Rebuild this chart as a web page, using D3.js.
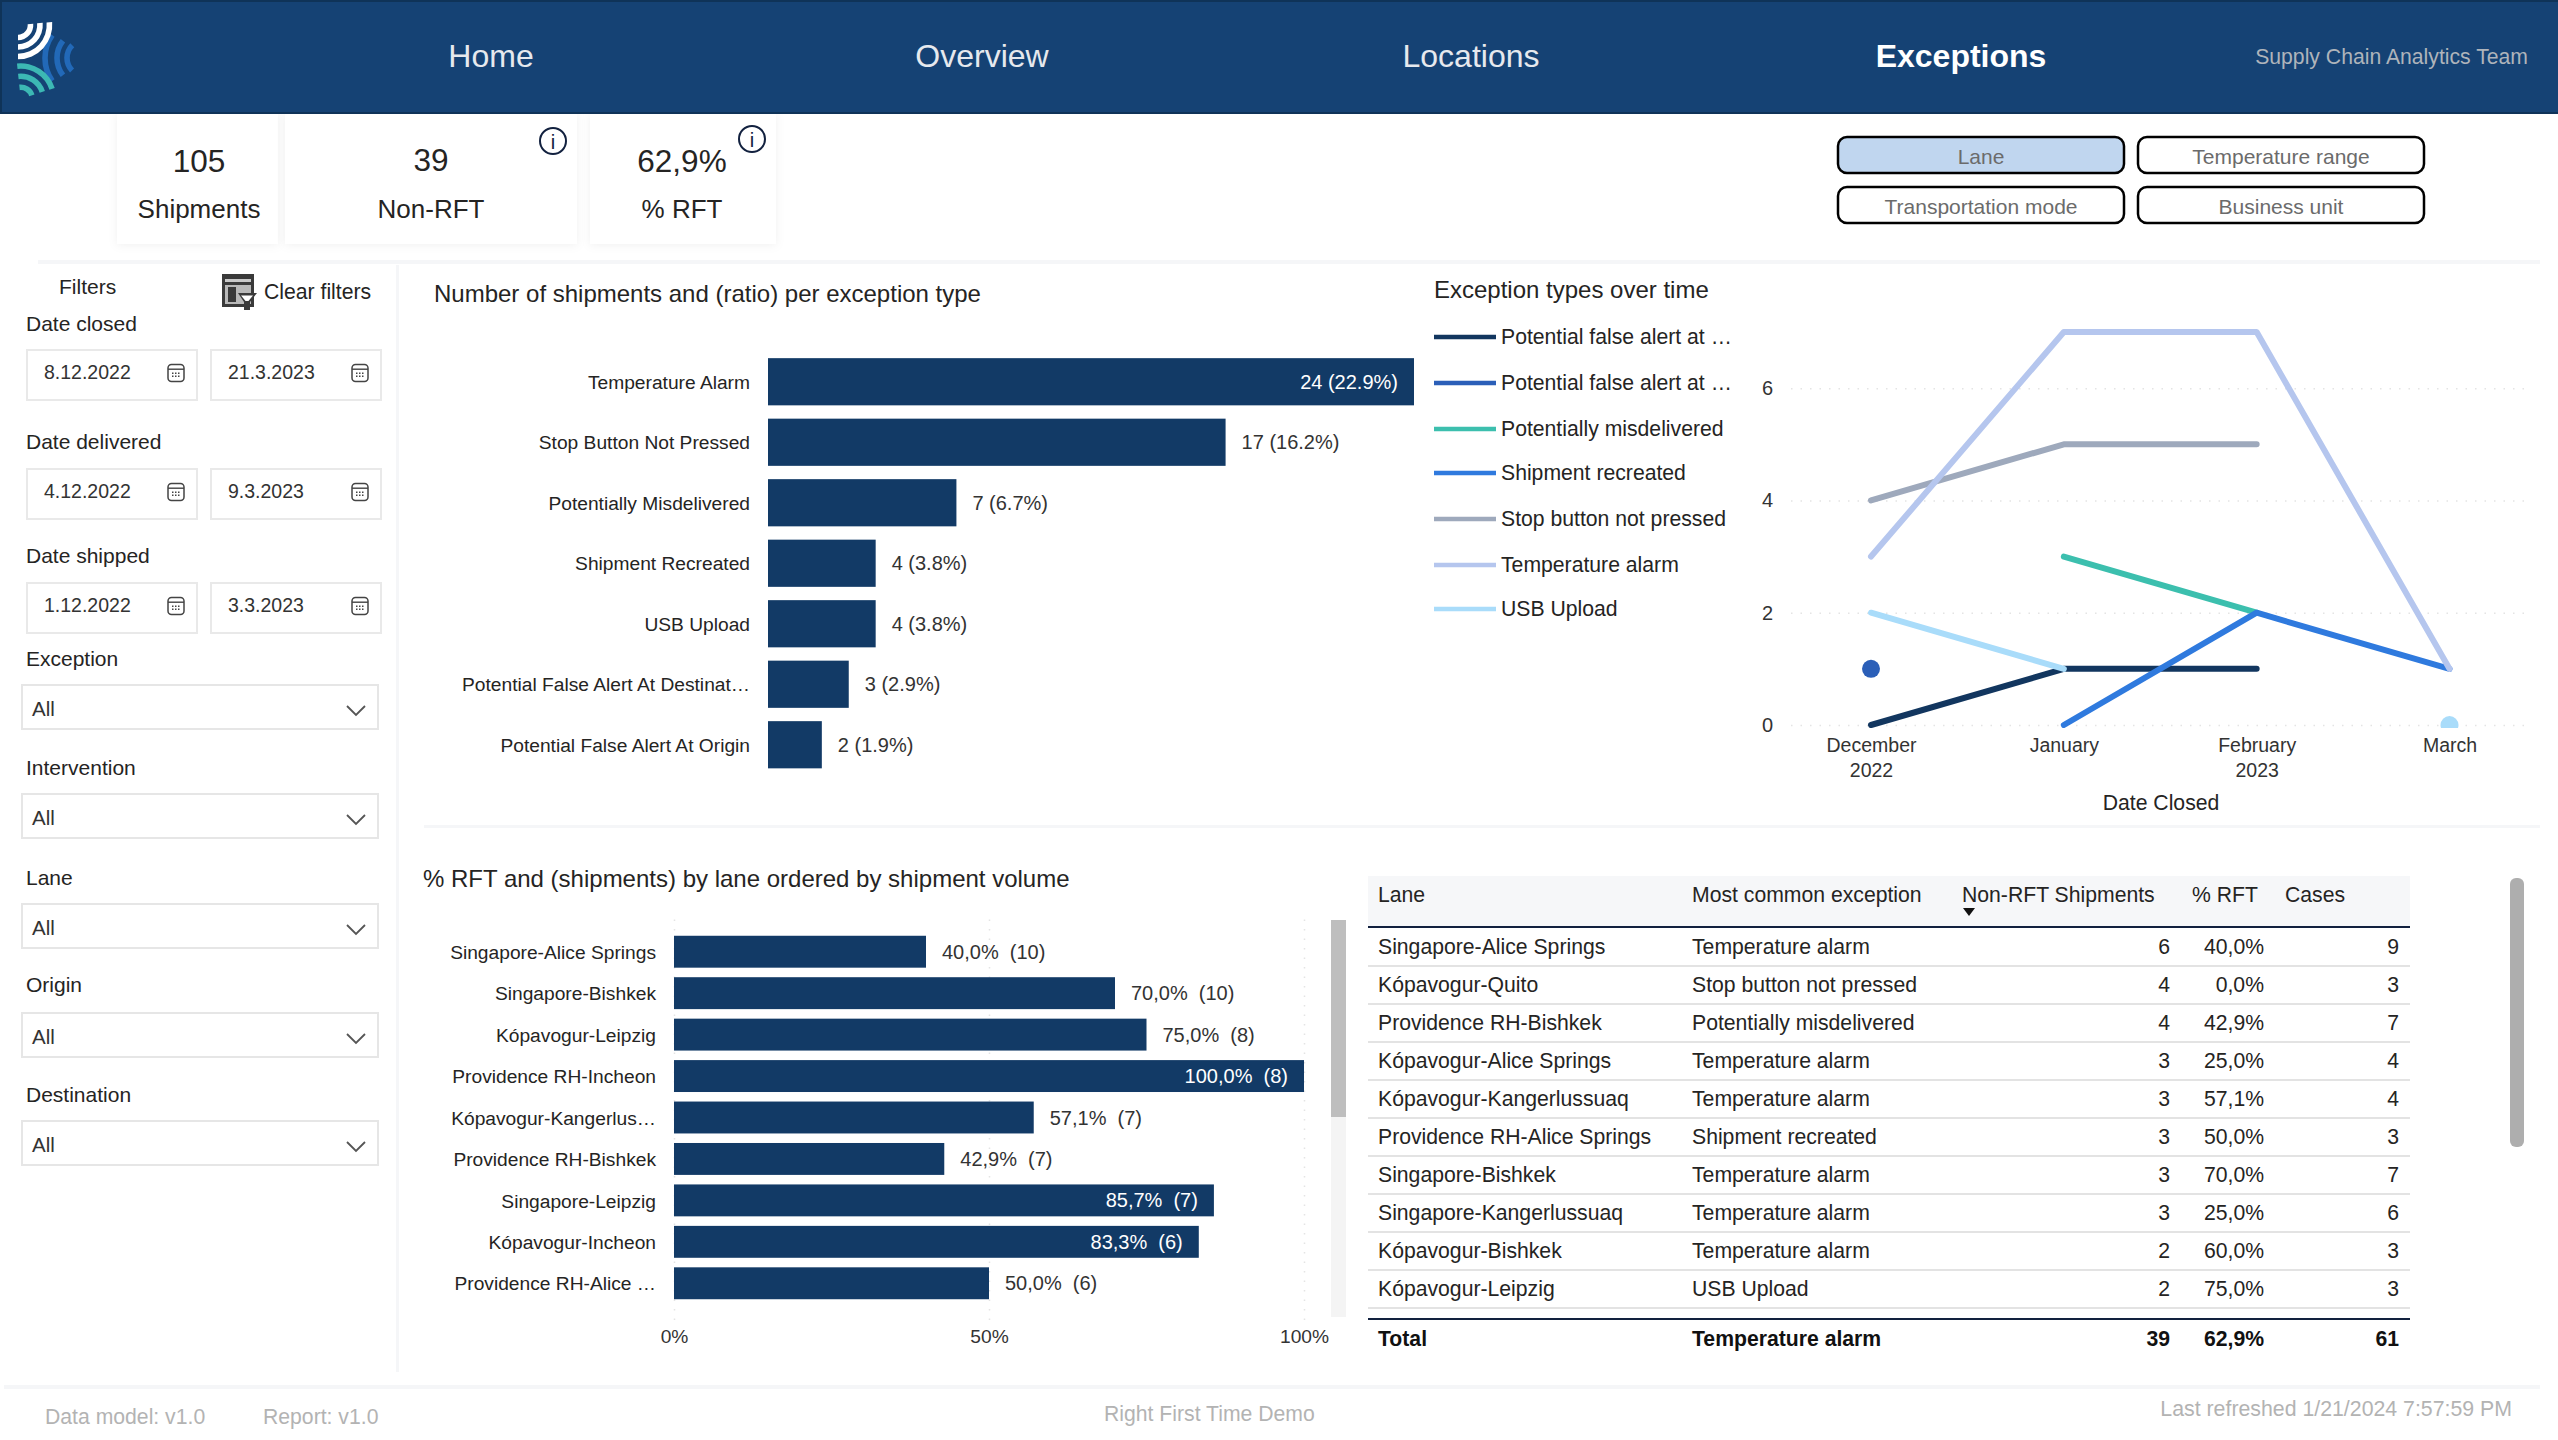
<!DOCTYPE html>
<html>
<head>
<meta charset="utf-8">
<script src="https://d3js.org/d3.v7.min.js"></script>
<style>
  html, body { margin: 0; padding: 0; background: #fff; }
  svg { display: block; }
  text { font-family: "Liberation Sans", Arial, sans-serif; }
  .domain { display: none; }
</style>
</head>
<body>
<svg id="my_dataviz" width="2558" height="1440"></svg>

<script>

// ---- data ----
const exceptionTypes = ["Temperature Alarm", "Stop Button Not Pressed", "Potentially Misdelivered", "Shipment Recreated", "USB Upload", "Potential False Alert At Destinat…", "Potential False Alert At Origin"];
const exceptionCounts = [24, 17, 7, 4, 4, 3, 2];
const exceptionRatios = ["22.9%", "16.2%", "6.7%", "3.8%", "3.8%", "2.9%", "1.9%"];

const months = ["December", "January", "February", "March"];
const years = ["2022", "", "2023", ""];
const legendNames = ["Potential false alert at …", "Potential false alert at …", "Potentially misdelivered", "Shipment recreated", "Stop button not pressed", "Temperature alarm", "USB Upload"];
const lineColors = ["#12365f", "#2b5fb8", "#3cbfae", "#2f7ade", "#9ea9bc", "#b5c6ee", "#a9dcfa"];
const falseAlertDestination = [0, 1, 1, null];
const falseAlertOrigin = [1, null, null, null];
const misdelivered = [null, 3, 2, null];
const recreated = [null, 0, 2, 1];
const stopButton = [4, 5, 5, null];
const temperatureAlarm = [3, 7, 7, 1];
const usbUpload = [2, 1, null, 0];

const barLanes = ["Singapore-Alice Springs", "Singapore-Bishkek", "Kópavogur-Leipzig", "Providence RH-Incheon", "Kópavogur-Kangerlus…", "Providence RH-Bishkek", "Singapore-Leipzig", "Kópavogur-Incheon", "Providence RH-Alice …"];
const barRft = [40.0, 70.0, 75.0, 100.0, 57.1, 42.9, 85.7, 83.3, 50.0];
const barShipments = [10, 10, 8, 8, 7, 7, 7, 6, 6];

const tableHeads = ["Lane", "Most common exception", "Non-RFT Shipments", "% RFT", "Cases"];
const tableLanes = ["Singapore-Alice Springs", "Kópavogur-Quito", "Providence RH-Bishkek", "Kópavogur-Alice Springs", "Kópavogur-Kangerlussuaq", "Providence RH-Alice Springs", "Singapore-Bishkek", "Singapore-Kangerlussuaq", "Kópavogur-Bishkek", "Kópavogur-Leipzig"];
const tableExceptions = ["Temperature alarm", "Stop button not pressed", "Potentially misdelivered", "Temperature alarm", "Temperature alarm", "Shipment recreated", "Temperature alarm", "Temperature alarm", "Temperature alarm", "USB Upload"];
const tableNonRft = [6, 4, 4, 3, 3, 3, 3, 3, 2, 2];
const tableRft = ["40,0%", "0,0%", "42,9%", "25,0%", "57,1%", "50,0%", "70,0%", "25,0%", "60,0%", "75,0%"];
const tableCases = [9, 3, 7, 4, 4, 3, 7, 6, 3, 3];
const tableTotal = ["Total", "Temperature alarm", "39", "62,9%", "61"];

const navItems = ["Home", "Overview", "Locations", "Exceptions"];
const kpiValues = ["105", "39", "62,9%"];
const kpiNames = ["Shipments", "Non-RFT", "% RFT"];
const toggleNames = ["Lane", "Temperature range", "Transportation mode", "Business unit"];
const dateFilters = ["Date closed", "Date delivered", "Date shipped"];
const dateFrom = ["8.12.2022", "4.12.2022", "1.12.2022"];
const dateTo = ["21.3.2023", "9.3.2023", "3.3.2023"];
const dropdownFilters = ["Exception", "Intervention", "Lane", "Origin", "Destination"];

// The svg
const svg = d3.select("svg");
const textCol = "#252423";
const barCol = "#123a66";

function label(parent, x, y, txt, size, col, anchor, weight) {
  return parent.append("text")
    .attr("x", x).attr("y", y - 1)
    .attr("dominant-baseline", "central")
    .attr("text-anchor", anchor || "start")
    .attr("font-size", size)
    .attr("font-weight", weight || "normal")
    .attr("fill", col || textCol)
    .text(txt);
}

// shadow for the kpi cards
svg.append("defs").append("filter").attr("id", "soft")
  .attr("x", "-20%").attr("y", "-20%").attr("width", "140%").attr("height", "140%")
  .append("feDropShadow")
  .attr("dx", 0).attr("dy", 1).attr("stdDeviation", 5)
  .attr("flood-color", "#000").attr("flood-opacity", 0.06);

svg.select("defs").append("clipPath").attr("id", "plotClip")
  .append("rect").attr("x", 1780).attr("y", 300).attr("width", 760).attr("height", 428);

// ---- kpi cards (under the header so the shadow does not fall on it) ----
const cardX = [117, 285, 590];
const cardW = [161, 292, 186];
const cardMid = [199, 431, 682];
kpiValues.forEach(function (d, i) {
  svg.append("rect").attr("x", cardX[i]).attr("y", 113).attr("width", cardW[i]).attr("height", 131)
    .attr("fill", "#fff").attr("filter", "url(#soft)");
  label(svg, cardMid[i], i === 1 ? 161 : 162, d, 31.5, textCol, "middle");
  label(svg, cardMid[i], 210, kpiNames[i], 26, textCol, "middle");
});

// ---- header ----
svg.append("rect").attr("width", 2558).attr("height", 114).attr("fill", "#0f3358");
svg.append("rect").attr("x", 2).attr("y", 2).attr("width", 2556).attr("height", 110).attr("fill", "#154274");

const navX = [491, 982, 1471, 1961];
navItems.forEach(function (d, i) {
  label(svg, navX[i], 57, d, 32, i === 3 ? "#ffffff" : "#e6e9ee", "middle", i === 3 ? "bold" : "normal");
});
label(svg, 2528, 57, "Supply Chain Analytics Team", 21.2, "#aeb4bb", "end");

// logo, three families of arcs
const logo = svg.append("g");
const arcGen = d3.arc();
const deg = Math.PI / 180;
[[18, 226, 315], [28, 232, 308], [40, 235, 305]].forEach(function (a) {
  logo.append("path").attr("transform", "translate(85,58)")
    .attr("d", arcGen({ innerRadius: a[0] - 2.8, outerRadius: a[0] + 2.8, startAngle: a[1] * deg, endAngle: a[2] * deg }))
    .attr("fill", "#2269b8");
});
[12.5, 22, 31.5].forEach(function (r) {
  logo.append("path").attr("transform", "translate(18,25)")
    .attr("d", arcGen({ innerRadius: r - 2.8, outerRadius: r + 2.8, startAngle: 85 * deg, endAngle: 180 * deg }))
    .attr("fill", "#ffffff");
});
[11.7, 22.7, 33].forEach(function (r) {
  logo.append("path").attr("transform", "translate(20.7,99)")
    .attr("d", arcGen({ innerRadius: r - 2.8, outerRadius: r + 2.8, startAngle: -6 * deg, endAngle: 72 * deg }))
    .attr("fill", "#3cb8b4");
});

function infoIcon(cx, cy) {
  svg.append("circle").attr("cx", cx).attr("cy", cy).attr("r", 13).attr("fill", "#fff").attr("stroke", "#12213f").attr("stroke-width", 2);
  label(svg, cx, cy + 2, "i", 20, "#12213f", "middle");
}
infoIcon(553, 141);
infoIcon(752, 139);

// ---- toggle buttons ----
const toggleX = [1838, 2138, 1838, 2138];
const toggleY = [137, 137, 187, 187];
toggleNames.forEach(function (d, i) {
  svg.append("rect").attr("x", toggleX[i]).attr("y", toggleY[i]).attr("width", 286).attr("height", 36).attr("rx", 9)
    .attr("fill", i === 0 ? "#c0d6ef" : "#fff").attr("stroke", "#000").attr("stroke-width", 2.5);
  label(svg, toggleX[i] + 143, toggleY[i] + 20, d, 21, "#6b6b6b", "middle");
});

// ---- separators ----
function sep(x, y, w, h) {
  svg.append("rect").attr("x", x).attr("y", y).attr("width", w).attr("height", h).attr("fill", "#f5f6f8");
}
sep(38, 260, 2502, 4);
sep(396, 265, 3, 1107);
sep(424, 825, 2116, 3);
sep(4, 1385, 2536, 4);

// ---- filter pane ----
label(svg, 59, 287, "Filters", 21);
label(svg, 264, 292, "Clear filters", 21.2);
const clearIcon = svg.append("g");
clearIcon.append("rect").attr("x", 222).attr("y", 274).attr("width", 32).attr("height", 33).attr("fill", "#3a3a3a");
clearIcon.append("rect").attr("x", 225).attr("y", 279).attr("width", 26).attr("height", 3).attr("fill", "#c9c9c9");
clearIcon.append("rect").attr("x", 225).attr("y", 285).attr("width", 26).attr("height", 19).attr("fill", "#b9b9b9");
clearIcon.append("rect").attr("x", 228).attr("y", 287).attr("width", 8).attr("height", 15).attr("fill", "#3a3a3a");
clearIcon.append("path").attr("d", "M238 293 L257 293 L250 302 L250 310 L244 310 L244 302 Z").attr("fill", "#3a3a3a");
clearIcon.append("path").attr("d", "M241 295.5 L253 295.5 L248.5 301 L245.5 301 Z").attr("fill", "#fff");

function calendar(cx, cy) {
  const g = svg.append("g").attr("transform", "translate(" + cx + "," + cy + ")");
  g.append("rect").attr("x", -8).attr("y", -8.5).attr("width", 16).attr("height", 17).attr("rx", 3.5)
    .attr("fill", "#fff").attr("stroke", "#444", 1).attr("stroke-width", 1.5);
  g.append("rect").attr("x", -8).attr("y", -4.5).attr("width", 16).attr("height", 1.4).attr("fill", "#444");
  d3.range(3).forEach(function (c) {
    d3.range(2).forEach(function (r) {
      g.append("rect").attr("x", -4 + c * 3).attr("y", -0.5 + r * 3).attr("width", 1.5).attr("height", 1.5).attr("fill", "#444");
    });
  });
}

const dateLabelY = [324, 442, 556];
const dateBoxY = [349, 468, 582];
dateFilters.forEach(function (d, i) {
  label(svg, 26, dateLabelY[i], d, 21);
  [26, 210].forEach(function (bx, j) {
    svg.append("rect").attr("x", bx + 1).attr("y", dateBoxY[i] + 1).attr("width", 170).attr("height", 50)
      .attr("fill", "#fff").attr("stroke", "#e9e9e9").attr("stroke-width", 2);
    label(svg, bx + 18, dateBoxY[i] + 24, j === 0 ? dateFrom[i] : dateTo[i], 19.5, "#333333");
    calendar(bx + 150, dateBoxY[i] + 24);
  });
});

const ddLabelY = [659, 768, 878, 985, 1095];
const ddBoxY = [685, 794, 904, 1013, 1121];
dropdownFilters.forEach(function (d, i) {
  label(svg, 26, ddLabelY[i], d, 21);
  svg.append("rect").attr("x", 22).attr("y", ddBoxY[i]).attr("width", 356).attr("height", 44)
    .attr("fill", "#fff").attr("stroke", "#e6e6e6").attr("stroke-width", 2);
  label(svg, 32, ddBoxY[i] + 24, "All", 20.5, "#333333");
  svg.append("path").attr("d", "M" + 347 + " " + (ddBoxY[i] + 21) + " l9 9 l9 -9")
    .attr("fill", "none").attr("stroke", "#555").attr("stroke-width", 1.8);
});

// ---- exception type bar chart ----
label(svg, 434, 294, "Number of shipments and (ratio) per exception type", 24);

const x1 = d3.scaleLinear().domain([0, 24]).range([768, 1414]);
const y1 = d3.scaleBand().domain(exceptionTypes).range([351.5, 775]).paddingInner(0.22).paddingOuter(0.11);

svg.append("g").attr("transform", "translate(768,1)")
  .call(d3.axisLeft(y1).tickSize(0).tickPadding(18))
  .call(g => g.selectAll("text").attr("font-size", 19.2).attr("fill", textCol).style("font-family", "Liberation Sans"));

svg.append("g").selectAll("rect").data(exceptionTypes).join("rect")
  .attr("x", x1(0))
  .attr("y", d => y1(d))
  .attr("width", (d, i) => x1(exceptionCounts[i]) - x1(0))
  .attr("height", y1.bandwidth())
  .attr("fill", barCol);

exceptionTypes.forEach(function (d, i) {
  const inside = exceptionCounts[i] > 20;
  const px = inside ? x1(exceptionCounts[i]) - 16 : x1(exceptionCounts[i]) + 16;
  label(svg, px, y1(d) + y1.bandwidth() / 2 + 1, exceptionCounts[i] + " (" + exceptionRatios[i] + ")", 20, inside ? "#fff" : "#333333", inside ? "end" : "start");
});

// ---- exception types over time ----
label(svg, 1434, 290, "Exception types over time", 24);

const seriesList = [falseAlertDestination, falseAlertOrigin, misdelivered, recreated, stopButton, temperatureAlarm, usbUpload];
const legendY = [337, 383, 429, 473, 519, 565, 609];
legendNames.forEach(function (d, i) {
  svg.append("line").attr("x1", 1434).attr("x2", 1496).attr("y1", legendY[i]).attr("y2", legendY[i])
    .attr("stroke", lineColors[i]).attr("stroke-width", 4.5);
  label(svg, 1501, legendY[i], d, 21.2);
});

const xTime = d3.scalePoint().domain(months).range([1871, 2449.5]);
const yTime = d3.scaleLinear().domain([0, 7]).range([725, 332]);

// y axis, long ticks are the dotted gridlines
svg.append("g").attr("transform", "translate(1791,0)")
  .call(d3.axisLeft(yTime).tickValues([0, 2, 4, 6]).tickFormat(d3.format("d")).tickSize(-739).tickPadding(18))
  .call(g => g.selectAll("line").attr("stroke", "#e4e4e4").attr("stroke-width", 1.5).attr("stroke-dasharray", "1.5 8"))
  .call(g => g.selectAll("text").attr("font-size", 20).attr("fill", "#333333").style("font-family", "Liberation Sans"));

// x axis with the year on a second row
svg.append("g").attr("transform", "translate(0,725)")
  .call(d3.axisBottom(xTime).tickSize(0).tickPadding(13))
  .call(g => g.selectAll("text").attr("font-size", 19.5).attr("fill", "#333333").style("font-family", "Liberation Sans"))
  .call(g => g.selectAll(".tick").append("text")
    .attr("y", 52).attr("fill", "#333333").attr("font-size", 19.5).attr("text-anchor", "middle")
    .style("font-family", "Liberation Sans")
    .text((d, i) => years[i]));
label(svg, 2161, 803, "Date Closed", 21.2, textCol, "middle");

const lineGen = d3.line()
  .defined(d => d != null)
  .x((d, i) => xTime(months[i]))
  .y(d => yTime(d));

const plot = svg.append("g").attr("clip-path", "url(#plotClip)");
seriesList.forEach(function (vals, s) {
  plot.append("path")
    .attr("d", lineGen(vals))
    .attr("fill", "none")
    .attr("stroke", lineColors[s])
    .attr("stroke-width", 6)
    .attr("stroke-linecap", "round")
    .attr("stroke-linejoin", "round");
  // points with no neighbour get a dot
  vals.forEach(function (v, i) {
    if (v != null && vals[i - 1] == null && vals[i + 1] == null) {
      plot.append("circle").attr("cx", xTime(months[i])).attr("cy", yTime(v)).attr("r", 9).attr("fill", lineColors[s]);
    }
  });
});

// ---- % rft by lane ----
label(svg, 423, 879, "% RFT and (shipments) by lane ordered by shipment volume", 24);

const x2 = d3.scaleLinear().domain([0, 100]).range([674, 1304]);
const y2 = d3.scaleBand().domain(barLanes).range([931, 1304]).paddingInner(0.23).paddingOuter(0.115);

svg.append("g").attr("transform", "translate(0,1320)")
  .call(d3.axisBottom(x2).tickValues([0, 50, 100]).tickFormat(d => d + "%").tickSize(-402).tickPadding(9))
  .call(g => g.selectAll("line").attr("stroke", "#e4e4e4").attr("stroke-width", 1.5).attr("stroke-dasharray", "1.5 8"))
  .call(g => g.selectAll("text").attr("font-size", 19.2).attr("fill", "#333333").style("font-family", "Liberation Sans"));

svg.append("g").attr("transform", "translate(674,1)")
  .call(d3.axisLeft(y2).tickSize(0).tickPadding(18))
  .call(g => g.selectAll("text").attr("font-size", 19.2).attr("fill", textCol).style("font-family", "Liberation Sans"));

svg.append("g").selectAll("rect").data(barLanes).join("rect")
  .attr("x", x2(0))
  .attr("y", d => y2(d))
  .attr("width", (d, i) => x2(barRft[i]) - x2(0))
  .attr("height", y2.bandwidth())
  .attr("fill", barCol);

barLanes.forEach(function (d, i) {
  const inside = barRft[i] > 80;
  const px = inside ? x2(barRft[i]) - 16 : x2(barRft[i]) + 16;
  const txt = barRft[i].toFixed(1).replace(".", ",") + "%\u00a0\u00a0(" + barShipments[i] + ")";
  label(svg, px, y2(d) + y2.bandwidth() / 2 + 1, txt, 20, inside ? "#fff" : "#333333", inside ? "end" : "start");
});

// scrollbar of the bar chart
svg.append("rect").attr("x", 1331).attr("y", 920).attr("width", 15).attr("height", 397).attr("fill", "#f4f4f4");
svg.append("rect").attr("x", 1331).attr("y", 920).attr("width", 15).attr("height", 197).attr("fill", "#bebebe");

// ---- table ----
const tableL = 1368, tableR = 2410;
const colX = [1378, 1692, 1962, 2192, 2285];
const colEnd = [null, null, 2170, 2264, 2399];
svg.append("rect").attr("x", tableL).attr("y", 876).attr("width", tableR - tableL).attr("height", 50).attr("fill", "#f6f7f9");
svg.append("rect").attr("x", tableL).attr("y", 926).attr("width", tableR - tableL).attr("height", 2).attr("fill", "#12213f");
tableHeads.forEach(function (d, i) {
  label(svg, colX[i], 895, d, 21.2, textCol);
});
svg.append("path").attr("d", "M1963 908 L1975 908 L1969 916 Z").attr("fill", "#111");

const rowY = d3.scaleBand().domain(d3.range(tableLanes.length)).range([928, 1308]);
tableLanes.forEach(function (d, i) {
  const cy = rowY(i) + rowY.bandwidth() / 2;
  label(svg, colX[0], cy, d, 21.2);
  label(svg, colX[1], cy, tableExceptions[i], 21.2);
  label(svg, colEnd[2], cy, tableNonRft[i], 21.2, textCol, "end");
  label(svg, colEnd[3], cy, tableRft[i], 21.2, textCol, "end");
  label(svg, colEnd[4], cy, tableCases[i], 21.2, textCol, "end");
  svg.append("rect").attr("x", tableL).attr("y", rowY(i) + rowY.bandwidth() - 1).attr("width", tableR - tableL).attr("height", 2).attr("fill", "#e3e3e3");
});
svg.append("rect").attr("x", tableL).attr("y", 1318).attr("width", tableR - tableL).attr("height", 2).attr("fill", "#12213f");
tableTotal.forEach(function (d, i) {
  label(svg, i < 2 ? colX[i] : colEnd[i], 1339, d, 21.2, "#111111", i < 2 ? "start" : "end", "bold");
});
svg.append("rect").attr("x", 2510).attr("y", 878).attr("width", 14).attr("height", 269).attr("rx", 6).attr("fill", "#aeaeae");

// ---- footer ----
label(svg, 45, 1417, "Data model: v1.0", 21.2, "#b3b3b3");
label(svg, 263, 1417, "Report: v1.0", 21.2, "#b3b3b3");
label(svg, 1104, 1414, "Right First Time Demo", 21.2, "#b3b3b3");
label(svg, 2512, 1410, "Last refreshed 1/21/2024 7:57:59 PM", 21.3, "#b3b3b3", "end");

</script>
</body>
</html>
